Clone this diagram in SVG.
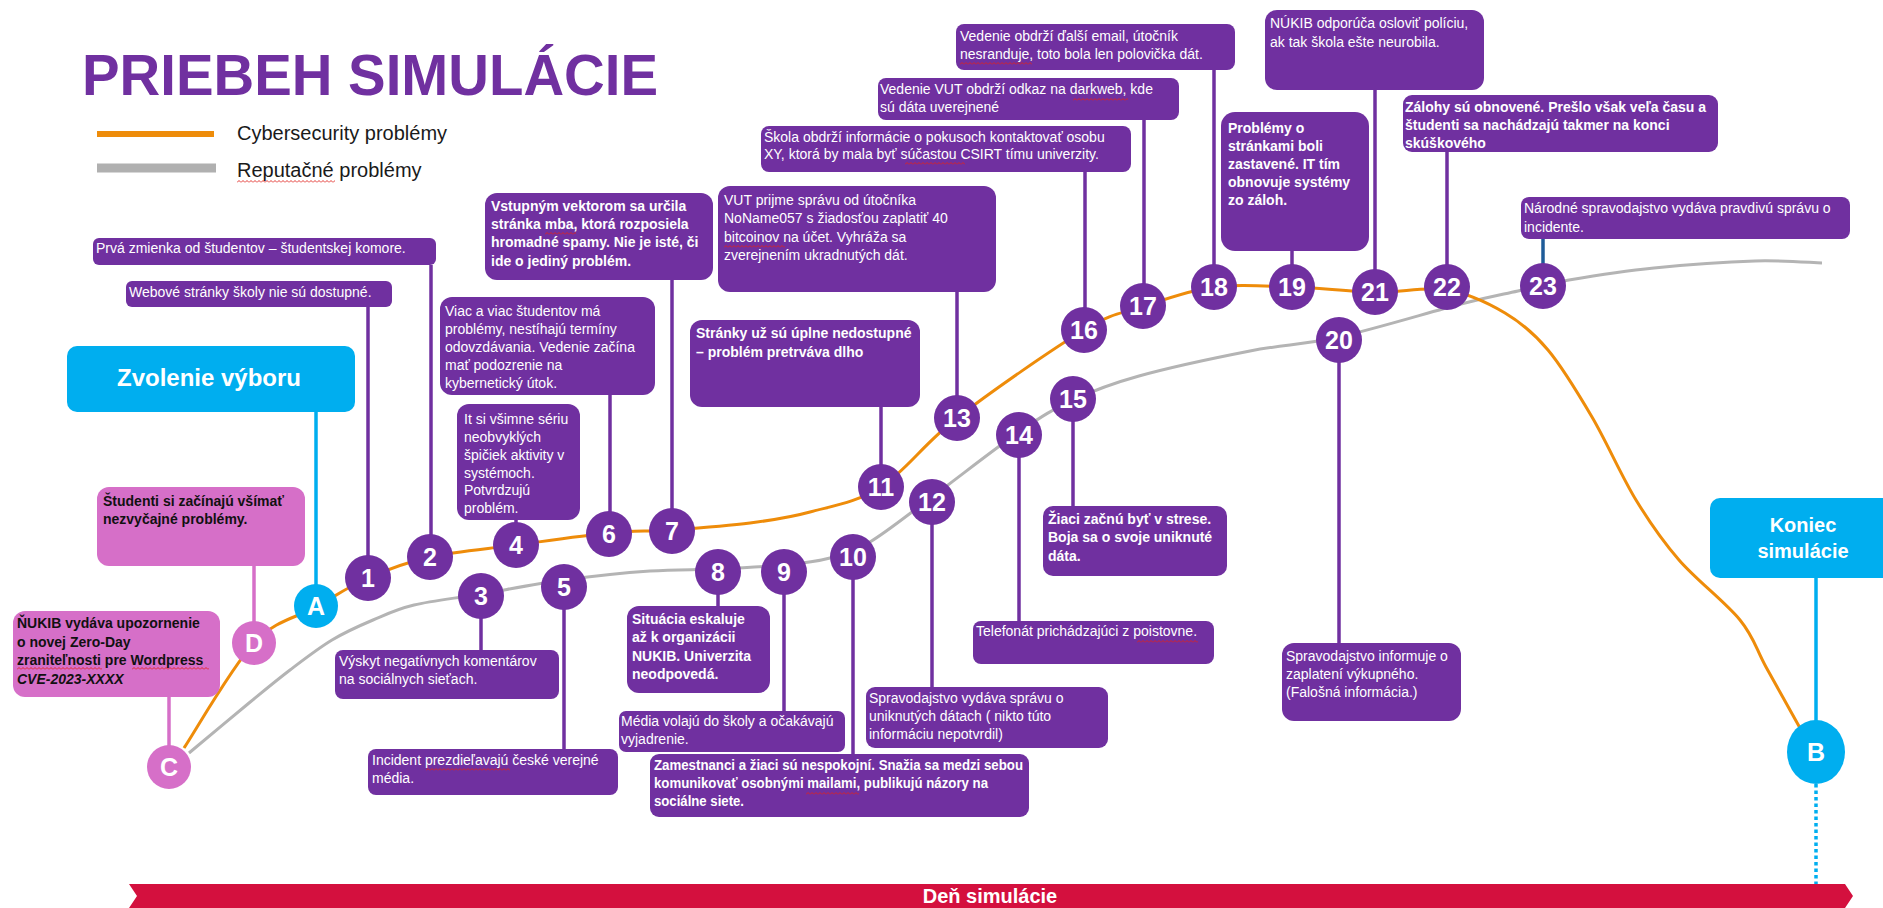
<svg xmlns="http://www.w3.org/2000/svg" width="1883" height="908" viewBox="0 0 1883 908">
<defs>
<style>
.box{fill:#7030A0}
.pink{fill:#D66FC8}
.cyan{fill:#00AEEF}
.t{font-family:"Liberation Sans",Arial,sans-serif;font-size:14px;fill:#fff}
.k{fill:#111}
.b{font-weight:bold}
.num{font-family:"Liberation Sans",Arial,sans-serif;font-size:25px;font-weight:bold;fill:#fff;text-anchor:middle}
.con{stroke:#7030A0;stroke-width:3.5;fill:none}
.conc{stroke:#00AEEF;stroke-width:3.5;fill:none}
.conp{stroke:#D66FC8;stroke-width:3.5;fill:none}
.sq{fill:url(#squig)}
</style>
<pattern id="squig" patternUnits="userSpaceOnUse" width="4" height="3">
<polyline points="0,2.5 2,0.5 4,2.5" fill="none" stroke="#E0201C" stroke-width="0.9"/>
</pattern>
</defs>
<rect width="1883" height="908" fill="#fff"/>

<g id="title">
<text x="82" y="95" font-family="Liberation Sans, Arial, sans-serif" font-size="57" font-weight="bold" fill="#7030A0" textLength="576" lengthAdjust="spacingAndGlyphs">PRIEBEH SIMULÁCIE</text>
</g>
<g id="legend">
<line x1="97" y1="134" x2="214" y2="134" stroke="#EE8C0A" stroke-width="6"/>
<line x1="97" y1="168" x2="216" y2="168" stroke="#B0B0B0" stroke-width="9"/>
<text x="237" y="140" font-family="Liberation Sans, Arial, sans-serif" font-size="20" fill="#1a1a1a">Cybersecurity problémy</text>
<text x="237" y="177" font-family="Liberation Sans, Arial, sans-serif" font-size="20" fill="#1a1a1a">Reputačné problémy</text>
<rect class="sq" x="0" y="0" width="98" height="3" transform="translate(237,180)"/>
</g>

<g id="curves">
<path d="M189,753 C199,744.7 232.2,716.8 249,703 C265.8,689.2 276.2,680.5 290,670 C303.8,659.5 318.2,648.3 332,640 C345.8,631.7 359.3,625.8 373,620 C386.7,614.2 396,609.3 414,605 C432,600.7 456,598.2 481,594 C506,589.8 535.8,583.8 564,580 C592.2,576.2 624.3,572.8 650,571 C675.7,569.2 695.5,570 718,569 C740.5,568 766.3,566.8 785,565 C803.7,563.2 815.8,561.8 830,558 C844.2,554.2 853,552.2 870,542 C887,531.8 907.2,515.3 932,497 C956.8,478.7 995.5,448.2 1019,432 C1042.5,415.8 1053,409.3 1073,400 C1093,390.7 1109.5,384.2 1139,376 C1168.5,367.8 1216.7,357.5 1250,351 C1283.3,344.5 1303.8,344.8 1339,337 C1374.2,329.2 1431.2,311.7 1461,304 C1490.8,296.3 1500,295 1518,291 C1536,287 1546.3,283.8 1569,280 C1591.7,276.2 1623,271.2 1654,268 C1685,264.8 1727,261.8 1755,261 C1783,260.2 1810.8,262.7 1822,263" fill="none" stroke="#B4B4B4" stroke-width="3"/>
<path d="M184,748 C195.7,730.5 232,666.5 254,643 C276,619.5 297,617.8 316,607 C335,596.2 349,586.3 368,578 C387,569.7 405.3,562.5 430,557 C454.7,551.5 486.2,549 516,545 C545.8,541 583.2,535.5 609,533 C634.8,530.5 647.5,531.7 671,530 C694.5,528.3 726.8,526 750,523 C773.2,520 788.2,518 810,512 C831.8,506 856.5,502.7 881,487 C905.5,471.3 923.2,444.2 957,418 C990.8,391.8 1053.2,348.5 1084,330 C1114.8,311.5 1120.3,314.2 1142,307 C1163.7,299.8 1189,290.3 1214,287 C1239,283.7 1265.2,286.2 1292,287 C1318.8,287.8 1349.2,291.5 1375,292 C1400.8,292.5 1425.3,286.5 1447,290 C1468.7,293.5 1488.2,303 1505,313 C1521.8,323 1533.5,332.7 1548,350 C1562.5,367.3 1577.3,392 1592,417 C1606.7,442 1621.5,476.2 1636,500 C1650.5,523.8 1661.7,540 1679,560 C1696.3,580 1725.5,602.2 1740,620 C1754.5,637.8 1756,649 1766,667 C1776,685 1794.3,717.8 1800,728" fill="none" stroke="#EE8C0A" stroke-width="3"/>
</g>

<g id="connectors">
<line class="con" x1="368" y1="307" x2="368" y2="578"/>
<line class="con" x1="431" y1="265" x2="431" y2="557"/>
<line class="con" x1="516" y1="518" x2="516" y2="545"/>
<line class="con" x1="610" y1="393" x2="610" y2="533"/>
<line class="con" x1="672" y1="278" x2="672" y2="530"/>
<line class="con" x1="481" y1="596" x2="481" y2="652"/>
<line class="con" x1="564" y1="587" x2="564" y2="751"/>
<line class="con" x1="718" y1="572" x2="718" y2="608"/>
<line class="con" x1="784" y1="572" x2="784" y2="713"/>
<line class="con" x1="853" y1="557" x2="853" y2="756"/>
<line class="con" x1="881" y1="405" x2="881" y2="487"/>
<line class="con" x1="932" y1="502" x2="932" y2="689"/>
<line class="con" x1="957" y1="290" x2="957" y2="418"/>
<line class="con" x1="1019" y1="435" x2="1019" y2="623"/>
<line class="con" x1="1073" y1="399" x2="1073" y2="508"/>
<line class="con" x1="1085" y1="170" x2="1085" y2="330"/>
<line class="con" x1="1144" y1="118" x2="1144" y2="306"/>
<line class="con" x1="1214" y1="68" x2="1214" y2="287"/>
<line class="con" x1="1292" y1="249" x2="1292" y2="287"/>
<line class="con" x1="1339" y1="340" x2="1339" y2="645"/>
<line class="con" x1="1375" y1="88" x2="1375" y2="292"/>
<line class="con" x1="1447" y1="150" x2="1447" y2="287"/>
<line x1="1543" y1="237" x2="1543" y2="286" stroke="#1F5C99" stroke-width="3.5"/>
<line class="conc" x1="316" y1="410" x2="316" y2="606"/>
<line class="conp" x1="254" y1="564" x2="254" y2="643"/>
<line class="conp" x1="169" y1="695" x2="169" y2="767"/>
<line class="conc" x1="1816" y1="576" x2="1816" y2="752"/>
<line x1="1816" y1="784" x2="1816" y2="884" stroke="#00AEEF" stroke-width="3.5" stroke-dasharray="3.5 3"/>
</g>

<g id="timeline-bar">
<polygon points="129,884 1845,884 1853,896 1845,908 129,908 137,896" fill="#D4103E"/>
<text x="990" y="903" text-anchor="middle" font-family="Liberation Sans, Arial, sans-serif" font-size="20" font-weight="bold" fill="#fff">Deň simulácie</text>
</g>

<g id="box-zvolenie">
<rect class="cyan" x="67" y="346" width="288" height="66" rx="10"/>
<text x="209" y="386" text-anchor="middle" font-family="Liberation Sans, Arial, sans-serif" font-size="24" font-weight="bold" fill="#fff">Zvolenie výboru</text>
</g>
<g id="box-koniec">
<rect class="cyan" x="1710" y="498" width="190" height="80" rx="10"/>
<text text-anchor="middle" font-family="Liberation Sans, Arial, sans-serif" font-size="20" font-weight="bold" fill="#fff"><tspan x="1803" y="532">Koniec</tspan><tspan x="1803" y="558">simulácie</tspan></text>
</g>

<g id="box-pink1">
<rect class="pink" x="97" y="487" width="208" height="79" rx="12"/>
<text class="t k b"><tspan x="103" y="506">Študenti si začínajú všímať</tspan><tspan x="103" y="524">nezvyčajné problémy.</tspan></text>
</g>
<g id="box-pink2">
<rect class="pink" x="13" y="611" width="207" height="86" rx="12"/>
<text class="t k b"><tspan x="17" y="628">ŇUKIB vydáva upozornenie</tspan><tspan x="17" y="647">o novej Zero-Day</tspan><tspan x="17" y="665">zraniteľnosti pre Wordpress</tspan><tspan x="17" y="684" font-style="italic">CVE-2023-XXXX</tspan></text>
<rect class="sq" x="0" y="0" width="85" height="3" transform="translate(17,667)"/>
<rect class="sq" x="0" y="0" width="77" height="3" transform="translate(132,667)"/>
</g>

<g id="box-prva">
<rect class="box" x="93" y="238" width="343" height="27" rx="6"/>
<text class="t" x="96" y="253">Prvá zmienka od študentov – študentskej komore.</text>
</g>
<g id="box-webove">
<rect class="box" x="126" y="281" width="266" height="26" rx="6"/>
<text class="t" x="129" y="297">Webové stránky školy nie sú dostupné.</text>
</g>
<g id="box-3">
<rect class="box" x="335" y="650" width="224" height="49" rx="8"/>
<text class="t"><tspan x="339" y="666">Výskyt negatívnych komentárov</tspan><tspan x="339" y="684">na sociálnych sieťach.</tspan></text>
</g>
<g id="box-4">
<rect class="box" x="457" y="404" width="123" height="116" rx="12"/>
<text class="t"><tspan x="464" y="424">It si všimne sériu</tspan><tspan x="464" y="442">neobvyklých</tspan><tspan x="464" y="460">špičiek aktivity v</tspan><tspan x="464" y="478">systémoch.</tspan><tspan x="464" y="495">Potvrdzujú</tspan><tspan x="464" y="513">problém.</tspan></text>
</g>
<g id="box-5">
<rect class="box" x="368" y="749" width="250" height="46" rx="8"/>
<text class="t"><tspan x="372" y="765">Incident prezdieľavajú české verejné</tspan><tspan x="372" y="783">média.</tspan></text>
<rect class="sq" x="0" y="0" width="84" height="3" transform="translate(426,768)"/>
</g>
<g id="box-6">
<rect class="box" x="440" y="297" width="215" height="98" rx="12"/>
<text class="t"><tspan x="445" y="316">Viac a viac študentov má</tspan><tspan x="445" y="334">problémy, nestíhajú termíny</tspan><tspan x="445" y="352">odovzdávania. Vedenie začína</tspan><tspan x="445" y="370">mať podozrenie na</tspan><tspan x="445" y="388">kybernetický útok.</tspan></text>
</g>
<g id="box-7">
<rect class="box" x="485" y="193" width="228" height="87" rx="12"/>
<text class="t b"><tspan x="491" y="211">Vstupným vektorom sa určila</tspan><tspan x="491" y="229">stránka mba, ktorá rozposiela</tspan><tspan x="491" y="247">hromadné spamy. Nie je isté, či</tspan><tspan x="491" y="266">ide o jediný problém.</tspan></text>
<rect class="sq" x="0" y="0" width="31" height="3" transform="translate(545,232)"/>
</g>
<g id="box-8">
<rect class="box" x="627" y="606" width="143" height="87" rx="12"/>
<text class="t b"><tspan x="632" y="624">Situácia eskaluje</tspan><tspan x="632" y="642">až k organizácii</tspan><tspan x="632" y="661">NUKIB. Univerzita</tspan><tspan x="632" y="679">neodpovedá.</tspan></text>
</g>
<g id="box-9">
<rect class="box" x="619" y="711" width="226" height="41" rx="7"/>
<text class="t"><tspan x="621" y="726">Média volajú do školy a očakávajú</tspan><tspan x="621" y="744">vyjadrenie.</tspan></text>
</g>
<g id="box-10">
<rect class="box" x="650" y="754" width="379" height="63" rx="9"/>
<text class="t b"><tspan x="654" y="770" textLength="369" lengthAdjust="spacingAndGlyphs">Zamestnanci a žiaci sú nespokojní. Snažia sa medzi sebou</tspan><tspan x="654" y="788" textLength="334" lengthAdjust="spacingAndGlyphs">komunikovať osobnými mailami, publikujú názory na</tspan><tspan x="654" y="806" textLength="90" lengthAdjust="spacingAndGlyphs">sociálne siete.</tspan></text>
<rect class="sq" x="0" y="0" width="53" height="3" transform="translate(806,792)"/>
</g>
<g id="box-11">
<rect class="box" x="690" y="320" width="230" height="87" rx="12"/>
<text class="t b"><tspan x="696" y="338">Stránky už sú úplne nedostupné</tspan><tspan x="696" y="357">– problém pretrváva dlho</tspan></text>
</g>
<g id="box-12">
<rect class="box" x="866" y="687" width="242" height="61" rx="9"/>
<text class="t"><tspan x="869" y="703">Spravodajstvo vydáva správu o</tspan><tspan x="869" y="721">uniknutých dátach ( nikto túto</tspan><tspan x="869" y="739">informáciu nepotvrdil)</tspan></text>
</g>
<g id="box-13">
<rect class="box" x="718" y="186" width="278" height="106" rx="12"/>
<text class="t"><tspan x="724" y="205">VUT prijme správu od útočníka</tspan><tspan x="724" y="223">NoName057 s žiadosťou zaplatiť 40</tspan><tspan x="724" y="242">bitcoinov na účet. Vyhráža sa</tspan><tspan x="724" y="260">zverejnením ukradnutých dát.</tspan></text>
<rect class="sq" x="0" y="0" width="61" height="3" transform="translate(724,245)"/>
</g>
<g id="box-14">
<rect class="box" x="973" y="621" width="241" height="43" rx="8"/>
<text class="t" x="976" y="636">Telefonát prichádzajúci z poistovne.</text>
<rect class="sq" x="0" y="0" width="61" height="3" transform="translate(1137,640)"/>
</g>
<g id="box-15">
<rect class="box" x="1043" y="506" width="184" height="70" rx="10"/>
<text class="t b"><tspan x="1048" y="524">Žiaci začnú byť v strese.</tspan><tspan x="1048" y="542">Boja sa o svoje uniknuté</tspan><tspan x="1048" y="561">dáta.</tspan></text>
</g>
<g id="box-16">
<rect class="box" x="761" y="126" width="370" height="46" rx="8"/>
<text class="t"><tspan x="764" y="142">Škola obdrží informácie o pokusoch kontaktovať osobu</tspan><tspan x="764" y="159">XY, ktorá by mala byť súčastou CSIRT tímu univerzity.</tspan></text>
<rect class="sq" x="0" y="0" width="60" height="3" transform="translate(905,162)"/>
</g>
<g id="box-17">
<rect class="box" x="878" y="78" width="301" height="42" rx="8"/>
<text class="t"><tspan x="880" y="94">Vedenie VUT obdrží odkaz na darkweb, kde</tspan><tspan x="880" y="112">sú dáta uverejnené</tspan></text>
<rect class="sq" x="0" y="0" width="55" height="3" transform="translate(1073,98)"/>
</g>
<g id="box-18">
<rect class="box" x="956" y="24" width="279" height="46" rx="8"/>
<text class="t"><tspan x="960" y="41">Vedenie obdrží ďalší email, útočník</tspan><tspan x="960" y="59">nesranduje, toto bola len polovička dát.</tspan></text>
<rect class="sq" x="0" y="0" width="72" height="3" transform="translate(960,62)"/>
</g>
<g id="box-19">
<rect class="box" x="1221" y="112" width="148" height="139" rx="14"/>
<text class="t b"><tspan x="1228" y="133">Problémy o</tspan><tspan x="1228" y="151">stránkami boli</tspan><tspan x="1228" y="169">zastavené. IT tím</tspan><tspan x="1228" y="187">obnovuje systémy</tspan><tspan x="1228" y="205">zo záloh.</tspan></text>
</g>
<g id="box-20">
<rect class="box" x="1282" y="643" width="179" height="78" rx="12"/>
<text class="t"><tspan x="1286" y="661">Spravodajstvo informuje o</tspan><tspan x="1286" y="679">zaplatení výkupného.</tspan><tspan x="1286" y="697">(Falošná informácia.)</tspan></text>
</g>
<g id="box-21">
<rect class="box" x="1265" y="10" width="219" height="80" rx="12"/>
<text class="t"><tspan x="1270" y="28">NÚKIB odporúča osloviť políciu,</tspan><tspan x="1270" y="47">ak tak škola ešte neurobila.</tspan></text>
</g>
<g id="box-22">
<rect class="box" x="1403" y="95" width="315" height="57" rx="9"/>
<text class="t b"><tspan x="1405" y="112">Zálohy sú obnovené. Prešlo však veľa času a</tspan><tspan x="1405" y="130">študenti sa nachádzajú takmer na konci</tspan><tspan x="1405" y="148">skúškového</tspan></text>
</g>
<g id="box-23">
<rect class="box" x="1521" y="197" width="329" height="42" rx="8"/>
<text class="t"><tspan x="1524" y="213">Národné spravodajstvo vydáva pravdivú správu o</tspan><tspan x="1524" y="232">incidente.</tspan></text>
</g>

<g id="node-A"><circle cx="316" cy="606" r="22" class="cyan"/><text class="num" x="316" y="615" font-size="24">A</text></g>
<g id="node-B"><ellipse cx="1816" cy="752" rx="29" ry="32" class="cyan"/><text class="num" x="1816" y="761">B</text></g>
<g id="node-C"><circle cx="169" cy="767" r="22" class="pink"/><text class="num" x="169" y="776" font-size="24">C</text></g>
<g id="node-D"><circle cx="254" cy="643" r="22" class="pink"/><text class="num" x="254" y="652" font-size="24">D</text></g>
<g id="node-1"><circle cx="368" cy="578" r="23" class="box"/><text class="num" x="368" y="587">1</text></g>
<g id="node-2"><circle cx="430" cy="557" r="23" class="box"/><text class="num" x="430" y="566">2</text></g>
<g id="node-3"><circle cx="481" cy="596" r="23" class="box"/><text class="num" x="481" y="605">3</text></g>
<g id="node-4"><circle cx="516" cy="545" r="23" class="box"/><text class="num" x="516" y="554">4</text></g>
<g id="node-5"><circle cx="564" cy="587" r="23" class="box"/><text class="num" x="564" y="596">5</text></g>
<g id="node-6"><circle cx="609" cy="534" r="23" class="box"/><text class="num" x="609" y="543">6</text></g>
<g id="node-7"><circle cx="672" cy="531" r="23" class="box"/><text class="num" x="672" y="540">7</text></g>
<g id="node-8"><circle cx="718" cy="572" r="23" class="box"/><text class="num" x="718" y="581">8</text></g>
<g id="node-9"><circle cx="784" cy="572" r="23" class="box"/><text class="num" x="784" y="581">9</text></g>
<g id="node-10"><circle cx="853" cy="557" r="23" class="box"/><text class="num" x="853" y="566">10</text></g>
<g id="node-11"><circle cx="881" cy="487" r="23" class="box"/><text class="num" x="881" y="496">11</text></g>
<g id="node-12"><circle cx="932" cy="502" r="23" class="box"/><text class="num" x="932" y="511">12</text></g>
<g id="node-13"><circle cx="957" cy="418" r="23" class="box"/><text class="num" x="957" y="427">13</text></g>
<g id="node-14"><circle cx="1019" cy="435" r="23" class="box"/><text class="num" x="1019" y="444">14</text></g>
<g id="node-15"><circle cx="1073" cy="399" r="23" class="box"/><text class="num" x="1073" y="408">15</text></g>
<g id="node-16"><circle cx="1084" cy="330" r="23" class="box"/><text class="num" x="1084" y="339">16</text></g>
<g id="node-17"><circle cx="1143" cy="306" r="23" class="box"/><text class="num" x="1143" y="315">17</text></g>
<g id="node-18"><circle cx="1214" cy="287" r="23" class="box"/><text class="num" x="1214" y="296">18</text></g>
<g id="node-19"><circle cx="1292" cy="287" r="23" class="box"/><text class="num" x="1292" y="296">19</text></g>
<g id="node-20"><circle cx="1339" cy="340" r="23" class="box"/><text class="num" x="1339" y="349">20</text></g>
<g id="node-21"><circle cx="1375" cy="292" r="23" class="box"/><text class="num" x="1375" y="301">21</text></g>
<g id="node-22"><circle cx="1447" cy="287" r="23" class="box"/><text class="num" x="1447" y="296">22</text></g>
<g id="node-23"><circle cx="1543" cy="286" r="23" class="box"/><text class="num" x="1543" y="295">23</text></g>
</svg>
